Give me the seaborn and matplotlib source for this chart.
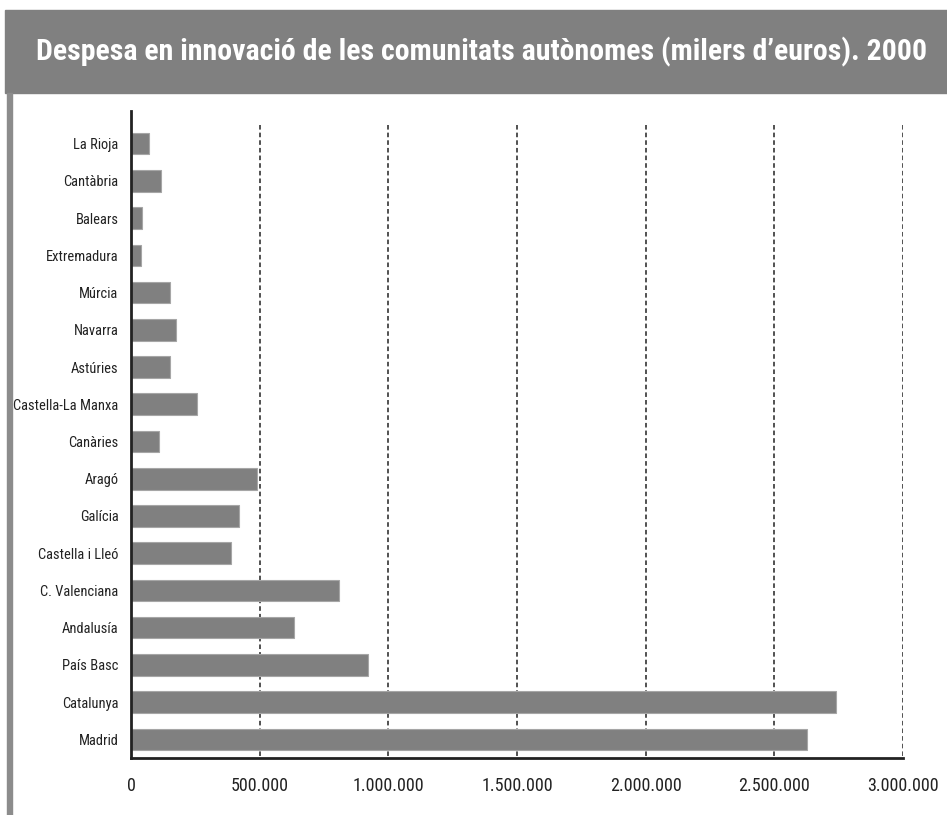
import matplotlib
matplotlib.use("Agg")
import matplotlib.pyplot as plt
import numpy as np
import seaborn as sns
from matplotlib.patches import Rectangle
from matplotlib.ticker import FuncFormatter

# despesa en innovació, milers d'euros (2000)
regions = [
    "La Rioja", "Cantàbria", "Balears", "Extremadura", "Múrcia", "Navarra",
    "Astúries", "Castella-La Manxa", "Canàries", "Aragó", "Galícia",
    "Castella i Lleó", "C. Valenciana", "Andalusía", "País Basc",
    "Catalunya", "Madrid",
]
values = [
    71000, 116000, 44000, 38000, 151000, 174000,
    151000, 256000, 108000, 490000, 418000,
    390000, 808000, 634000, 921000,
    2741000, 2627000,
]
xticks = [0, 500000, 1000000, 1500000, 2000000, 2500000, 3000000]
title = "Despesa en innovació de les comunitats autònomes (milers d’euros). 2000"

BAR = "#808080"
BANNER = "#808080"

sns.set_style("white")
plt.rcParams["font.family"] = [
    "Roboto Condensed", "DejaVu Sans Condensed", "Liberation Sans Narrow",
    "Roboto", "DejaVu Sans",
]

W, H = 947, 815
fig = plt.figure(figsize=(W / 100, H / 100), dpi=100)

# grey title banner and left border strip
fig.patches.append(Rectangle((5 / W, 1 - 93 / H), 1 - 5 / W, 83 / H,
                             transform=fig.transFigure, color=BANNER, zorder=0))
fig.patches.append(Rectangle((7 / W, 0), 5 / W, 1 - 93 / H,
                             transform=fig.transFigure, color="#8c8c8c", zorder=0))
ttl = fig.text(482 / W, 1 - 52 / H, title, color="white", fontsize=24,
               fontweight="bold", ha="center", va="center")

ax = fig.add_axes([131 / W, 1 - 758 / H, (903 - 131) / W, (758 - 111) / H])
sns.barplot(x=values, y=regions, orient="h", color=BAR, saturation=1,
            width=0.58, edgecolor="#a6a6a6", linewidth=0.8, ax=ax)

ax.set_xlim(0, 3000000)
ax.set_ylim(16.5, -0.876)
ax.vlines(xticks[1:], -0.5, 16.5, colors="#222222", linestyles=(0, (3, 2)),
          linewidth=1.1, zorder=0.5)

ax.set_xticks(xticks)
ax.xaxis.set_major_formatter(FuncFormatter(lambda v, _: f"{int(v):,}".replace(",", ".")))
ax.tick_params(axis="x", direction="out", length=9, width=1.6, labelsize=13,
               pad=5, colors="#222222")

ax.set_yticks(range(len(regions)))
ax.set_yticklabels(regions)
ax.set_yticks(np.arange(-0.5, len(regions), 1), minor=True)
ax.tick_params(axis="y", which="major", length=0, pad=9, labelsize=11.5,
               colors="#222222")
ax.tick_params(axis="y", which="minor", direction="out", length=10, width=1.3,
               color="#222222")
ax.set_xlabel("")
ax.set_ylabel("")

sns.despine(ax=ax)
for side in ("left", "bottom"):
    ax.spines[side].set_linewidth(2)
    ax.spines[side].set_color("#222222")

# fit title across the banner (about 895 px wide in the reference)
fig.canvas.draw()
tw = ttl.get_window_extent().width
ttl.set_fontsize(24 * 895 / tw)

# keep y labels inside the figure
fig.canvas.draw()
lab_w = max(t.get_window_extent().width for t in ax.get_yticklabels())
if lab_w > 105:
    ax.tick_params(axis="y", which="major", labelsize=11.5 * 105 / lab_w)

fig.savefig("out.png", dpi=100)
